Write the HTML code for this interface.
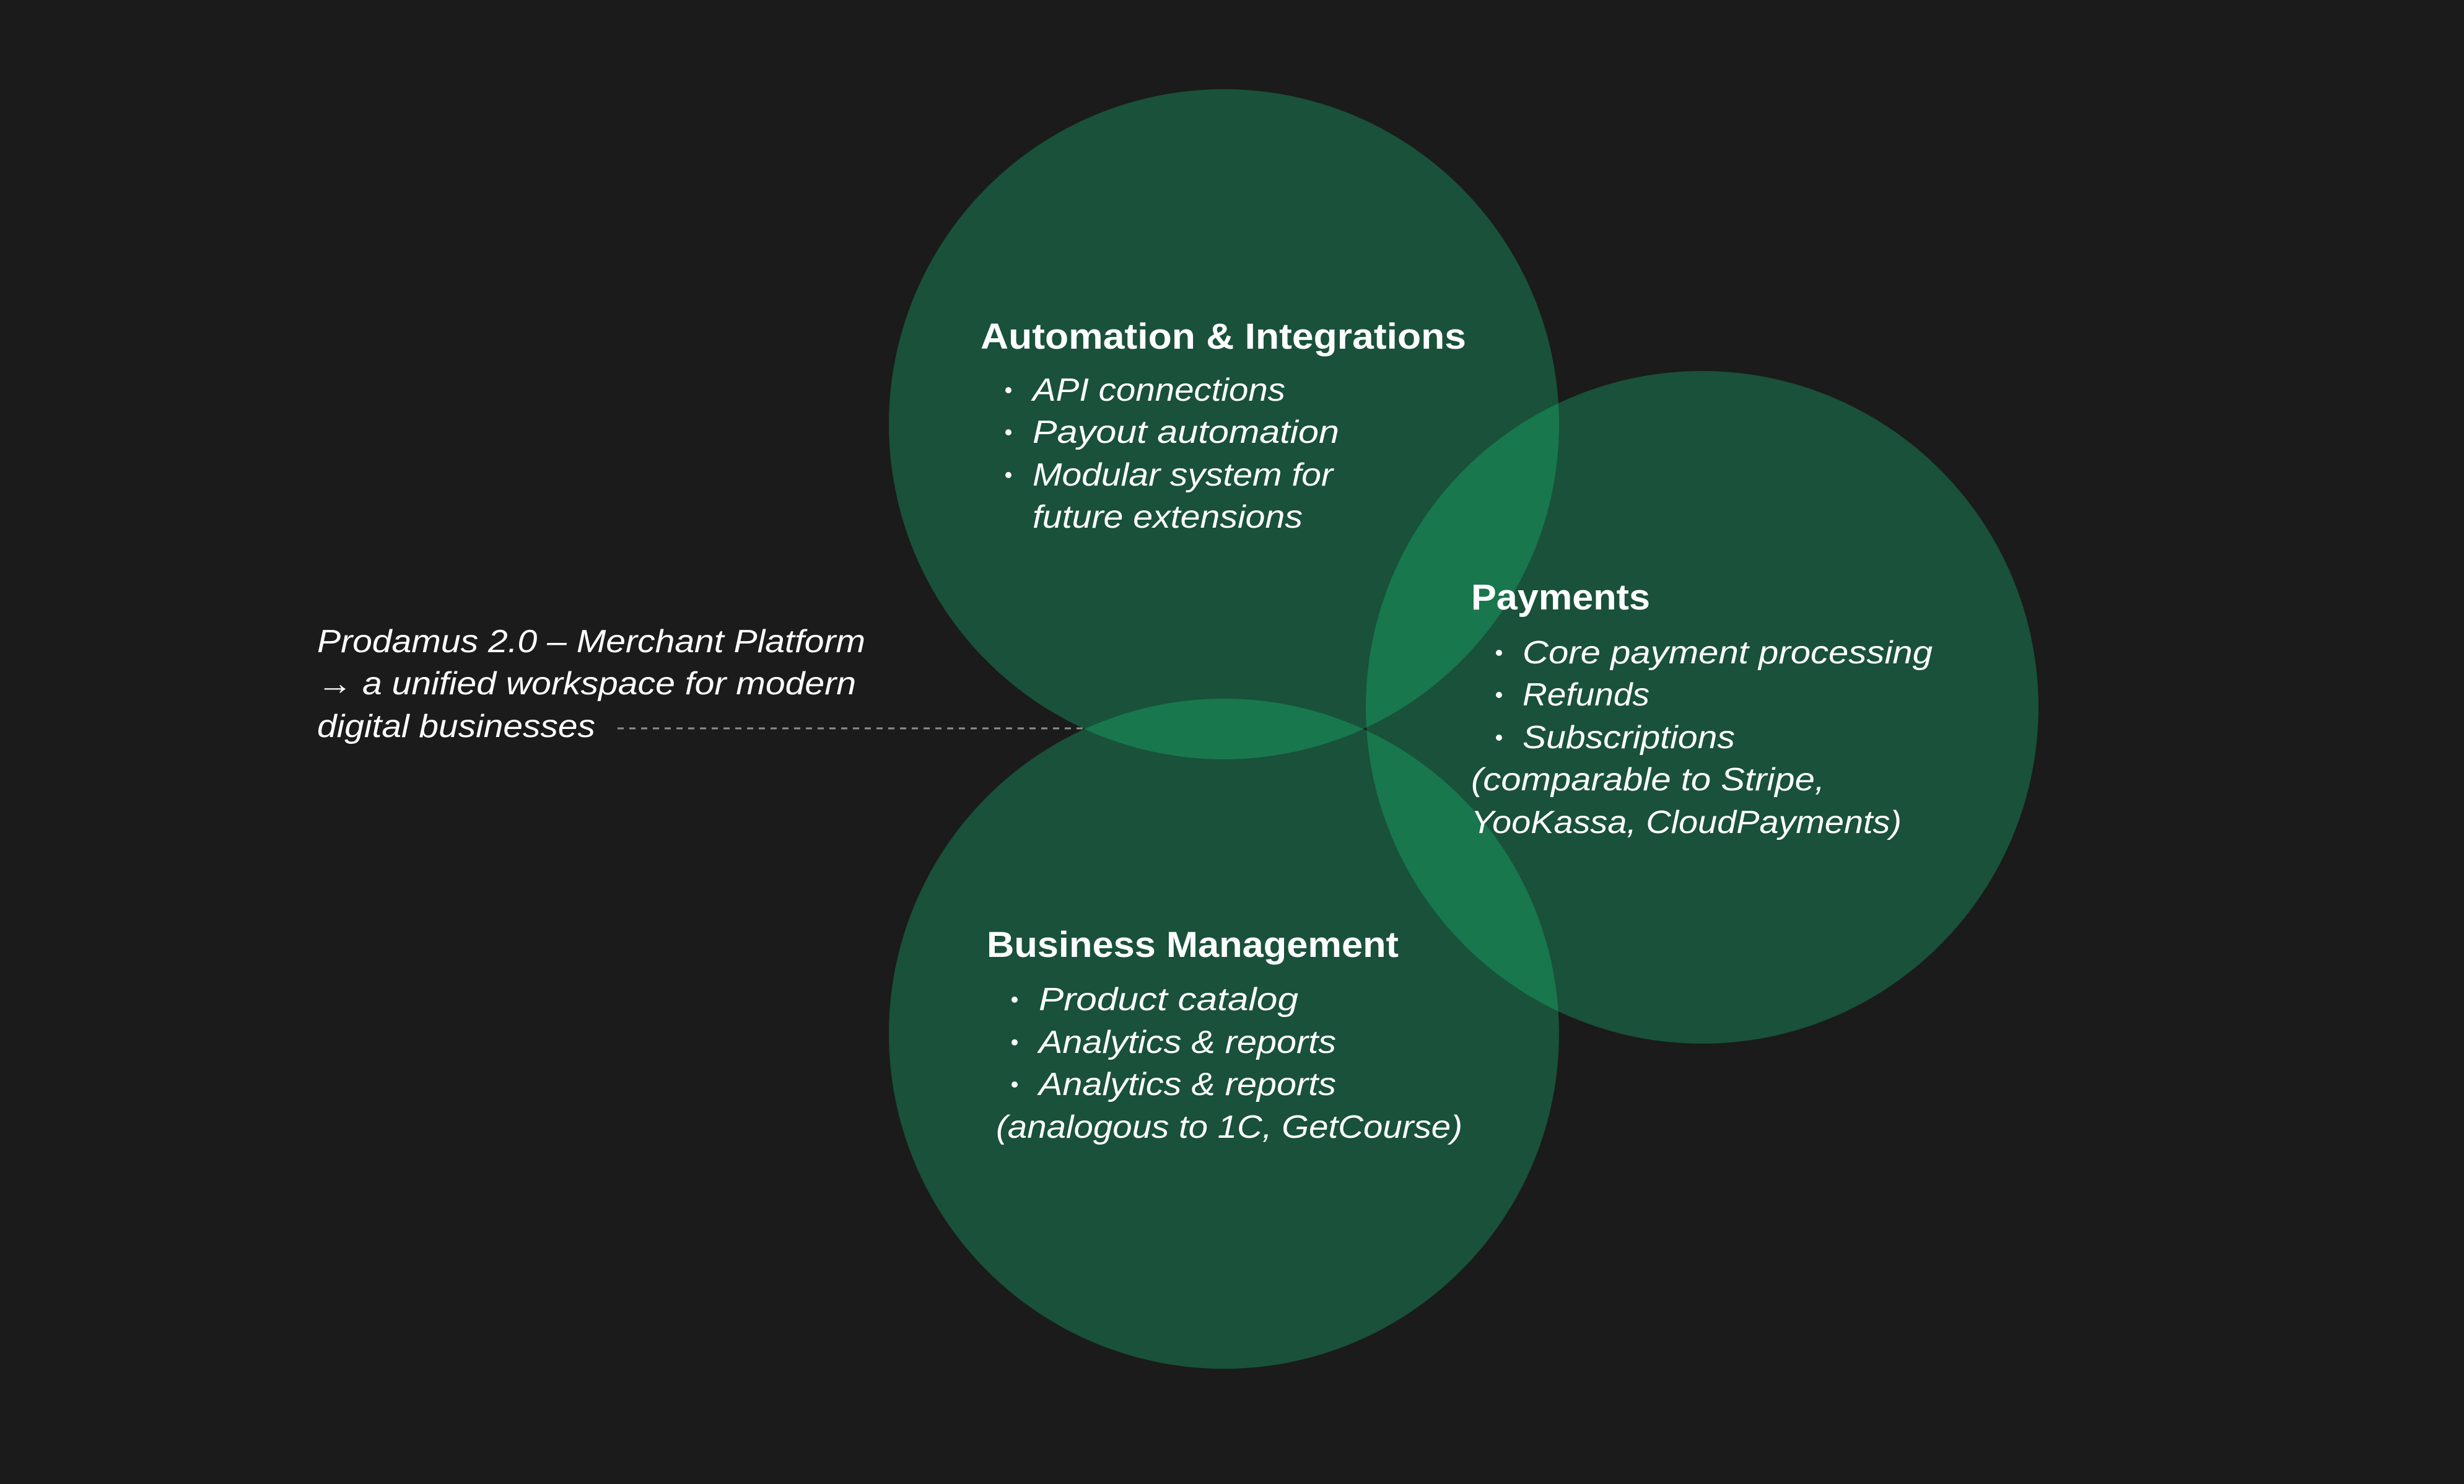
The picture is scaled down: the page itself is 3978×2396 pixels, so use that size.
<!DOCTYPE html>
<html><head><meta charset="utf-8"><style>
html,body{margin:0;padding:0;background:#1b1b1b;}
svg{display:block}
text{font-family:"Liberation Sans",sans-serif;fill:#ffffff;}
.t{font-weight:bold;font-size:58px;}
.i{font-style:italic;font-size:52px;}
</style></head><body>
<svg width="3978" height="2396" viewBox="0 0 3978 2396" xmlns="http://www.w3.org/2000/svg">
<defs>
<clipPath id="cT"><circle cx="1976" cy="685" r="541"/></clipPath>
<clipPath id="cR"><circle cx="2748" cy="1142" r="543"/></clipPath>
<clipPath id="cB"><circle cx="1976" cy="1669" r="541"/></clipPath>
</defs>
<rect width="3978" height="2396" fill="#1b1b1b"/>
<circle cx="1976" cy="685" r="541" fill="#19513a"/>
<circle cx="2748" cy="1142" r="543" fill="#19513a"/>
<circle cx="1976" cy="1669" r="541" fill="#19513a"/>
<g clip-path="url(#cT)">
  <circle cx="2748" cy="1142" r="543" fill="#18774d"/>
  <circle cx="1976" cy="1669" r="541" fill="#18774d"/>
</g>
<g clip-path="url(#cB)">
  <circle cx="2748" cy="1142" r="543" fill="#18774d"/>
</g>
<line x1="997" y1="1176" x2="1750" y2="1176" stroke="#8a8f8c" stroke-width="3" stroke-dasharray="10 9"/>

<text class="i" x="512" y="1053" textLength="885" lengthAdjust="spacingAndGlyphs">Prodamus 2.0 – Merchant Platform</text>
<text class="i" x="512" y="1121" textLength="870" lengthAdjust="spacingAndGlyphs">→ a unified workspace for modern</text>
<text class="i" x="512" y="1190" textLength="449" lengthAdjust="spacingAndGlyphs">digital businesses</text>

<text class="t" x="1583" y="563" textLength="784" lengthAdjust="spacingAndGlyphs">Automation &amp; Integrations</text>
<g class="b">
<circle cx="1628" cy="630" r="5" fill="#fff"/><text class="i" x="1667" y="647" textLength="408" lengthAdjust="spacingAndGlyphs">API connections</text>
<circle cx="1628" cy="698" r="5" fill="#fff"/><text class="i" x="1667" y="715" textLength="495" lengthAdjust="spacingAndGlyphs">Payout automation</text>
<circle cx="1628" cy="767" r="5" fill="#fff"/><text class="i" x="1667" y="784" textLength="485" lengthAdjust="spacingAndGlyphs">Modular system for</text>
<text class="i" x="1667" y="852" textLength="436" lengthAdjust="spacingAndGlyphs">future extensions</text>
</g>

<text class="t" x="2375" y="984" textLength="289" lengthAdjust="spacingAndGlyphs">Payments</text>
<circle cx="2420" cy="1054" r="5" fill="#fff"/><text class="i" x="2458" y="1071" textLength="662" lengthAdjust="spacingAndGlyphs">Core payment processing</text>
<circle cx="2420" cy="1122" r="5" fill="#fff"/><text class="i" x="2458" y="1139" textLength="205" lengthAdjust="spacingAndGlyphs">Refunds</text>
<circle cx="2420" cy="1191" r="5" fill="#fff"/><text class="i" x="2458" y="1208" textLength="343" lengthAdjust="spacingAndGlyphs">Subscriptions</text>
<text class="i" x="2375" y="1276" textLength="571" lengthAdjust="spacingAndGlyphs">(comparable to Stripe,</text>
<text class="i" x="2375" y="1345" textLength="695" lengthAdjust="spacingAndGlyphs">YooKassa, CloudPayments)</text>

<text class="t" x="1593" y="1545" textLength="665" lengthAdjust="spacingAndGlyphs">Business Management</text>
<circle cx="1638" cy="1614" r="5" fill="#fff"/><text class="i" x="1677" y="1631" textLength="419" lengthAdjust="spacingAndGlyphs">Product catalog</text>
<circle cx="1638" cy="1683" r="5" fill="#fff"/><text class="i" x="1677" y="1700" textLength="480" lengthAdjust="spacingAndGlyphs">Analytics &amp; reports</text>
<circle cx="1638" cy="1751" r="5" fill="#fff"/><text class="i" x="1677" y="1768" textLength="480" lengthAdjust="spacingAndGlyphs">Analytics &amp; reports</text>
<text class="i" x="1608" y="1837" textLength="753" lengthAdjust="spacingAndGlyphs">(analogous to 1C, GetCourse)</text>
</svg>
</body></html>
